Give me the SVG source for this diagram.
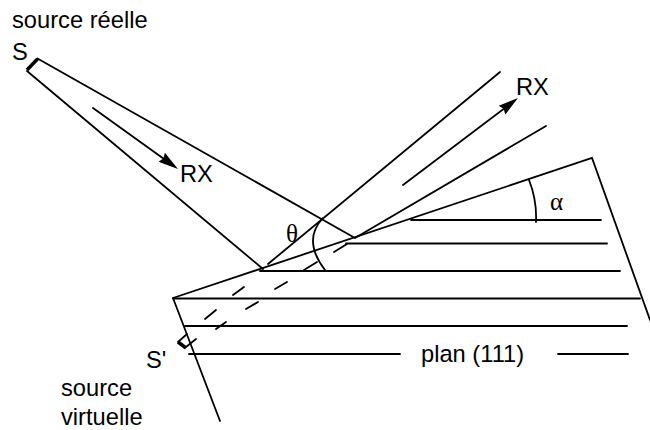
<svg xmlns="http://www.w3.org/2000/svg" width="650" height="430" viewBox="0 0 650 430">
<style>
.l{fill:none;stroke:#000;stroke-width:1.8;stroke-linecap:round}
.s{font-family:"Liberation Sans",Arial,sans-serif;font-size:23.700px;fill:#000}
.g{font-family:"Liberation Serif","DejaVu Serif",serif;font-size:25px;fill:#000}
</style>
<defs><marker id="a" markerUnits="userSpaceOnUse" markerWidth="22" markerHeight="18" refX="14" refY="9" orient="auto"><path d="M0 3.500L20 9L0 14.500L2 9Z" fill="#000"/></marker></defs>
<rect width="650" height="430" fill="#fff"/>
<g id="connectors">
<path class="l" d="M37.500 58.500L355 238M27 71L263 269M268 264L500 72M355 238L546 126"/>
<path class="l" d="M173 298L592 158L650 320M173 298L220 421"/>
<path class="l" d="M411 220H601M346 243.500H607M260 271H620M173 298.500H640M185 326H627M189 354H400M558 354H628"/>
<path class="l" d="M93 108L173.100 165.500" marker-end="url(#a)"/>
<path class="l" d="M403 185L513.200 101.600" marker-end="url(#a)"/>
<path class="l" d="M205 319L216 310M233 295L244 287M216 329L226 322M246 309L258 302M275 289L287 282M304 270L317 262M334 252L347 244"/>
<path class="l" d="M323 218Q302 240 325 270M529 180Q537 200 536 222"/>
<path d="M27 70L37.500 59" fill="none" stroke="#000" stroke-width="3.500"/>
<path d="M178 342L186 348" fill="none" stroke="#000" stroke-width="3.500"/>
<path class="l" d="M178 342L187 334M186 347L196 339"/>
</g>
<g id="labels">
<text class="s" x="12" y="28">source réelle</text>
<text class="s" x="12" y="60">S</text>
<text class="s" x="180" y="182">RX</text>
<text class="s" x="516" y="95">RX</text>
<text class="g" x="286" y="242">θ</text>
<text class="g" x="550" y="210">α</text>
<text class="s" x="146" y="368">S'</text>
<text class="s" x="421" y="362">plan (111)</text>
<text class="s" x="61" y="396">source</text>
<text class="s" x="61" y="425">virtuelle</text>
</g>
</svg>
